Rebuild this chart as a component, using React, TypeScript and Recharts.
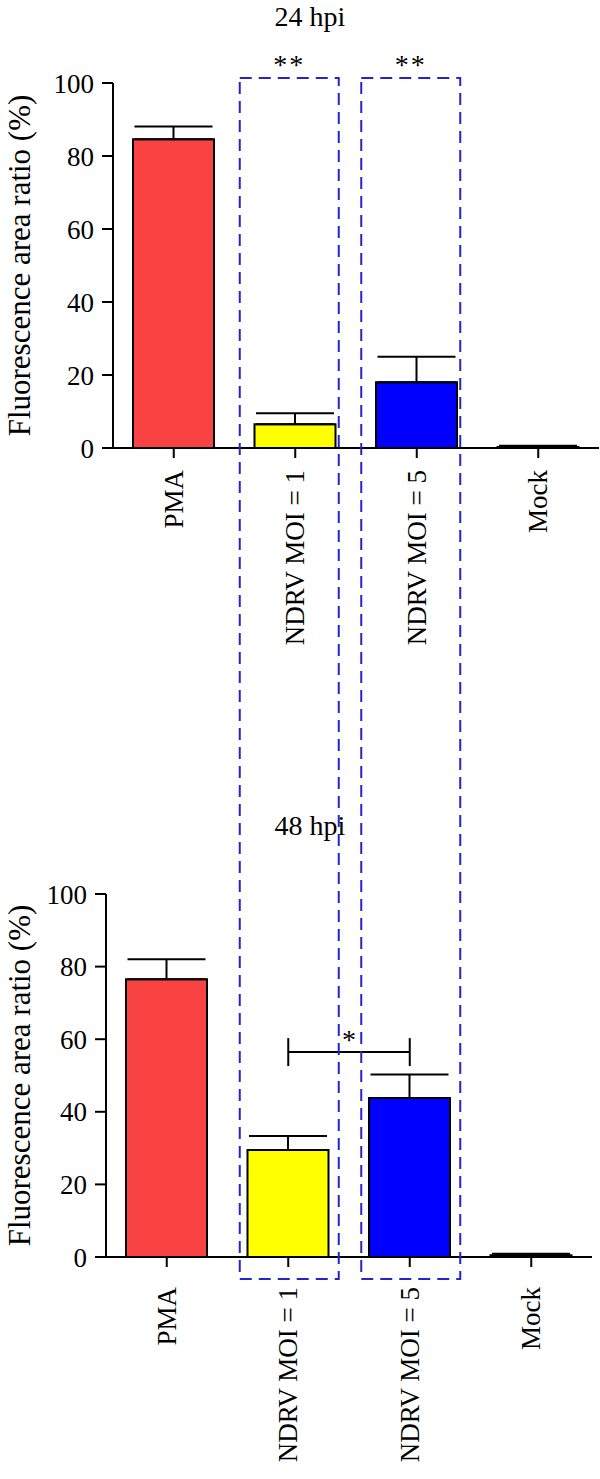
import React from 'react'
import { BarChart, Bar, XAxis, YAxis, Cell, ErrorBar, ReferenceLine } from 'recharts'

const categories = ['PMA', 'NDRV MOI = 1', 'NDRV MOI = 5', 'Mock']
const values24 = [84.6, 6.5, 18, 0.3]
const errors24 = [3.5, 3, 7, 0.3]
const values48 = [76.5, 29.5, 43.8, 0.5]
const errors48 = [5.5, 3.8, 6.5, 0.4]
const barColors = ['#F94343', '#FFFF00', '#0000FF', '#111111']
const yTicks = [0, 20, 40, 60, 80, 100]
const bracketY = 56.5
const bracketEnds = [52.6, 60.3]

const FONT = '"Liberation Serif", "Times New Roman", serif'
const FS = 27
const BOX = '#2424CC'

const build = (vals: number[], errs: number[]) =>
    categories.map((name, i) => ({ name, value: vals[i], err: [0, errs[i]] }))

const data24 = build(values24, errors24)
const data48 = build(values48, errors48)

// layout
const W = 600
const BAND = 121.5
const top1 = { left: 113, plotTop: 83, plotBottom: 448, height: 740, labelGap: 12 }
const top2 = { offset: 740, left: 106, plotTop: 894, plotBottom: 1257, height: 739, labelGap: 20 }

const XTick = (props: any) => {
    const { x, y, payload } = props
    return (
        <text
            x={x}
            y={y}
            transform={`rotate(-90, ${x}, ${y})`}
            textAnchor="end"
            dominantBaseline="central"
            fontSize={FS}
            fontFamily={FONT}
            fill="#000"
        >
            {payload.value}
        </text>
    )
}

const Panel = ({ data, left, plotTop, plotBottom, height, offset, labelGap, bracket }: any) => {
    const chartTop = plotTop - offset
    const bottomSpace = height - (plotBottom - offset)
    const right = W - left - BAND * categories.length
    return (
        <BarChart
            width={W}
            height={height}
            data={data}
            margin={{ top: chartTop, right, left: 0, bottom: 12 }}
            barSize={81}
        >
            <XAxis
                dataKey="name"
                interval={0}
                height={bottomSpace - 12}
                axisLine={{ stroke: '#000', strokeWidth: 2 }}
                tickLine={{ stroke: '#000', strokeWidth: 2 }}
                tickSize={10}
                tickMargin={labelGap}
                tick={<XTick />}
            />
            <YAxis
                width={left}
                domain={[0, 100]}
                ticks={yTicks}
                interval={0}
                axisLine={{ stroke: '#000', strokeWidth: 2 }}
                tickLine={{ stroke: '#000', strokeWidth: 2 }}
                tickSize={11}
                tickMargin={8}
                tick={{ fill: '#000', fontSize: FS, fontFamily: FONT }}
            />
            <Bar dataKey="value" stroke="#000" strokeWidth={2} isAnimationActive={false}>
                {data.map((_: any, i: number) => (
                    <Cell key={i} fill={barColors[i]} />
                ))}
                <ErrorBar dataKey="err" width={39} stroke="#000" strokeWidth={2} isAnimationActive={false} />
            </Bar>
            {bracket && (
                <ReferenceLine
                    segment={[
                        { x: categories[1], y: bracketY },
                        { x: categories[2], y: bracketY }
                    ]}
                    stroke="#000"
                    strokeWidth={2}
                    label={{ value: '*', position: 'top', offset: 3, fontSize: FS + 1, fontFamily: FONT, fill: '#000' }}
                />
            )}
            {bracket &&
                [1, 2].map((c) => (
                    <ReferenceLine
                        key={c}
                        segment={[
                            { x: categories[c], y: bracketEnds[0] },
                            { x: categories[c], y: bracketEnds[1] }
                        ]}
                        stroke="#000"
                        strokeWidth={2}
                    />
                ))}
        </BarChart>
    )
}

const App = () => {
    const boxCenters = [1, 2].map((i) => top2.left + BAND * (i + 0.5) + 1)
    const boxHalf = 49.5
    return (
        <div style={{ position: 'absolute', left: 0, top: 0, width: W, height: 1479, background: '#fff', fontFamily: FONT }}>
            <div style={{ position: 'absolute', left: 0, top: 0 }}>
                <Panel data={data24} {...top1} offset={0} />
            </div>
            <div style={{ position: 'absolute', left: 0, top: top2.offset }}>
                <Panel data={data48} {...top2} bracket />
            </div>
            <svg width={W} height={1479} style={{ position: 'absolute', left: 0, top: 0, pointerEvents: 'none' }}>
                {/* titles */}
                <text x={310} y={26} textAnchor="middle" fontSize={FS + 1} fontFamily={FONT}>24 hpi</text>
                <text x={310} y={835} textAnchor="middle" fontSize={FS + 1} fontFamily={FONT}>48 hpi</text>

                {/* y axis titles */}
                {[top1, top2].map((p, i) => (
                    <text
                        key={i}
                        x={19}
                        y={(p.plotTop + p.plotBottom) / 2}
                        transform={`rotate(-90, 19, ${(p.plotTop + p.plotBottom) / 2})`}
                        textAnchor="middle"
                        dominantBaseline="central"
                        fontSize={31}
                        fontFamily={FONT}
                    >
                        Fluorescence area ratio (%)
                    </text>
                ))}

                {/* x axis extends past the y axis */}
                <line x1={top1.left - 10} x2={top1.left} y1={top1.plotBottom} y2={top1.plotBottom} stroke="#000" strokeWidth={2} />
                <line x1={top2.left - 10} x2={top2.left} y1={top2.plotBottom} y2={top2.plotBottom} stroke="#000" strokeWidth={2} />

                {/* dashed boxes + significance */}
                {boxCenters.map((c, i) => (
                    <g key={i}>
                        <rect
                            x={c - boxHalf}
                            y={78}
                            width={boxHalf * 2}
                            height={1279 - 78}
                            fill="none"
                            stroke={BOX}
                            strokeWidth={2}
                            strokeDasharray="12 7"
                        />
                        <text x={c} y={74} textAnchor="middle" fontSize={FS + 1} fontFamily={FONT} letterSpacing={2}>**</text>
                    </g>
                ))}
            </svg>
        </div>
    )
}

export default App
